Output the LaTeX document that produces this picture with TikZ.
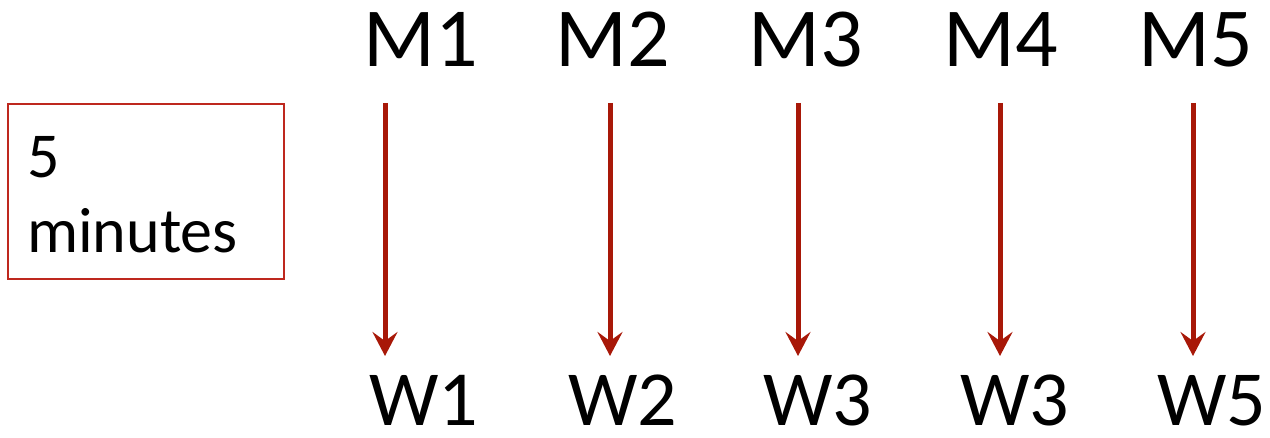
\documentclass[tikz,border=0pt]{standalone}
\usepackage{fontspec}
\setmainfont{Carlito}
\usetikzlibrary{arrows.meta}
\definecolor{arrred}{RGB}{168,24,8}
\definecolor{boxred}{RGB}{190,40,30}
\tikzset{
  lbl/.style={anchor=base, inner sep=0pt, text depth=0pt},
  mlbl/.style={lbl, font=\fontsize{84}{90}\selectfont},
  wlbl/.style={lbl, font=\fontsize{78}{84}\selectfont},
  arr/.style={draw=arrred, line width=5pt, -{Stealth[length=24pt,width=25pt,inset=9pt]}},
}
\begin{document}
\begin{tikzpicture}[x=1pt,y=-1pt]
\useasboundingbox (0,0) rectangle (1270,438);
% box
\node[draw=boxred, line width=1.5pt, minimum width=276pt, minimum height=175pt, inner sep=0pt] (box) at (146,191.5) {};
\node[anchor=base west, inner sep=0pt, align=left, font=\fontsize{64}{75}\selectfont] (txt) at (27,253) {5\\minutes};
% labels
\node[mlbl] (m1) at (421,67) {M1};
\node[mlbl] (m2) at (613,67) {M2};
\node[mlbl] (m3) at (806,67) {M3};
\node[mlbl] (m4) at (1001,67) {M4};
\node[mlbl] (m5) at (1196,67) {M5};
\node[wlbl] (w1) at (424,425) {W1};
\node[wlbl] (w2) at (623,425) {W2};
\node[wlbl] (w3) at (818,425) {W3};
\node[wlbl] (w4) at (1015,425) {W3};
\node[wlbl] (w5) at (1212,425) {W5};
% arrow ends
\coordinate (a1) at (385,103); \coordinate (b1) at (385,356);
\coordinate (a2) at (610,103); \coordinate (b2) at (610,356);
\coordinate (a3) at (798,103); \coordinate (b3) at (798,356);
\coordinate (a4) at (1000,103); \coordinate (b4) at (1000,356);
\coordinate (a5) at (1193,103); \coordinate (b5) at (1193,356);
\draw[arr] (a1) -- (b1);
\draw[arr] (a2) -- (b2);
\draw[arr] (a3) -- (b3);
\draw[arr] (a4) -- (b4);
\draw[arr] (a5) -- (b5);
\end{tikzpicture}
\end{document}
